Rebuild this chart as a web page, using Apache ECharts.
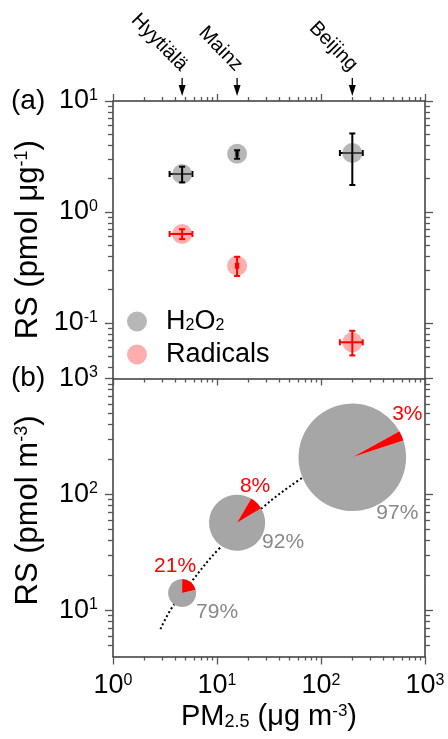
<!DOCTYPE html>
<html><head><meta charset="utf-8">
<script src="https://cdn.jsdelivr.net/npm/echarts@6/dist/echarts.min.js"></script>
<style>html,body{margin:0;padding:0;background:#fff}#c{width:448px;height:739px}</style>
</head><body><div id="c"></div>
<script>
// ---------------- data ----------------
const sites = ['Hyytiälä', 'Mainz', 'Beijing'];
const pm25 = [4.62, 15.6, 200];
const pm25Low = [3.5, 15.2, 152];
const pm25High = [5.8, 16.0, 252];
const h2o2 = [2.2, 3.35, 3.4];
const h2o2Low = [1.85, 3.02, 1.75];
const h2o2High = [2.56, 3.6, 5.1];
const radicals = [0.634, 0.328, 0.067];
const radicalsLow = [0.57, 0.265, 0.051];
const radicalsHigh = [0.70, 0.395, 0.085];
const rsTotal = [14.1, 57, 209];
const radicalPct = [21, 8, 3];
const h2o2Pct = [79, 92, 97];
const fitX = [2.86, 3.65, 5.69, 10.2, 27, 62.7, 90];
const fitY = [6.9, 10.4, 17.7, 33.2, 76, 135, 160];
const xTicks = [1, 10, 100, 1000];
const yTicksA = [0.1, 1, 10];
const yTicksB = [10, 100, 1000];

// ---------------- style ----------------
const FONT = '"Liberation Sans", Arial, sans-serif';
const wedgeDir = [52, 45.5, 23.5];           // direction of red wedge (deg, ccw from east)
const redLabelOff = [[-7, -27], [18, -37], [55, -43]];
const greyLabelOff = [[35, 19], [46, 19], [45, 56]];
const radiusPerSqrt = 3.72;
const xMin = 1, xMax = 1000;
const yMinA = 0.0316228, yMaxA = 10, yMinB = 4, yMaxB = 1000;

function minorTicks(min, max) {
  const out = [];
  for (let e = Math.floor(Math.log10(min)); e < Math.ceil(Math.log10(max)); e++) {
    for (let m = 2; m <= 9; m++) {
      const v = +(m * Math.pow(10, e)).toPrecision(6);
      if (v > min * 1.0001 && v < max * 0.9999) out.push(v);
    }
  }
  return out;
}
const expLabel = v => '{b|10}{s|' + Math.round(Math.log10(v)) + '}';
const richTick = {
  b: {fontFamily: FONT, fontSize: 27, lineHeight: 27, color: '#000'},
  s: {fontFamily: FONT, fontSize: 16, lineHeight: 15, verticalAlign: 'top', color: '#000'}
};
function axis(gridIndex, position, min, max, ticks, len, line, labelOpt) {
  return {
    type: 'log', logBase: 10, gridIndex: gridIndex, position: position, min: min, max: max,
    axisLine: {show: line, onZero: false, lineStyle: {color: '#3a3a3a', width: 1.5}},
    axisTick: {show: true, inside: false, length: len, customValues: ticks, lineStyle: {color: '#555', width: 1.3}},
    axisLabel: labelOpt || {show: false},
    splitLine: {show: false}, minorTick: {show: false}, minorSplitLine: {show: false},
    axisPointer: {show: false}, silent: true, nameMoveOverlap: false
  };
}
const xLab = {show: true, customValues: xTicks, margin: 16, formatter: expLabel, rich: richTick, color: '#000'};
const yLabA = {show: true, customValues: yTicksA, margin: 15, formatter: expLabel, rich: richTick, color: '#000'};
const yLabB = {show: true, customValues: yTicksB, margin: 15, formatter: expLabel, rich: richTick, color: '#000'};

const xMinor = minorTicks(xMin, xMax);
const yMinorA = minorTicks(yMinA, yMaxA);
const yMinorB = minorTicks(yMinB, yMaxB);

const xAxes = [
  axis(0, 'bottom', xMin, xMax, xTicks, 7, true),
  axis(0, 'bottom', xMin, xMax, xMinor, 4, false),
  axis(0, 'top', xMin, xMax, xTicks, 7, true),
  axis(0, 'top', xMin, xMax, xMinor, 4, false),
  Object.assign(axis(1, 'bottom', xMin, xMax, xTicks, 8, true, xLab), {
    name: 'PM{sub|2.5} (μg m{sup|-3})', nameLocation: 'middle', nameGap: 46,
    nameTextStyle: {fontFamily: FONT, fontSize: 29, lineHeight: 29, color: '#000', rich: {
      sub: {fontFamily: FONT, fontSize: 18, lineHeight: 1, verticalAlign: 'bottom', color: '#000'},
      sup: {fontFamily: FONT, fontSize: 17, lineHeight: 15, verticalAlign: 'top', color: '#000'}
    }}
  }),
  axis(1, 'bottom', xMin, xMax, xMinor, 4, false)
];
const yName = (txt, pad) => ({
  name: txt, nameLocation: 'middle', nameGap: 70, nameRotate: 90,
  nameTextStyle: {fontFamily: FONT, fontSize: 31, lineHeight: 30, color: '#000', padding: pad, rich: {
    sup: {fontFamily: FONT, fontSize: 18, lineHeight: 16, verticalAlign: 'top', color: '#000'}
  }}
});
const yAxes = [
  Object.assign(axis(0, 'left', yMinA, yMaxA, yTicksA, 8, true, yLabA), yName('RS (pmol μg{sup|-1})', [0, 0, 0, 0])),
  axis(0, 'left', yMinA, yMaxA, yMinorA, 5, false),
  axis(0, 'right', yMinA, yMaxA, yTicksA, 8, true),
  axis(0, 'right', yMinA, yMaxA, yMinorA, 5, false),
  Object.assign(axis(1, 'left', yMinB, yMaxB, yTicksB, 8, true, yLabB), yName('RS (pmol m{sup|-3})', [0, 0, 0, 14])),
  axis(1, 'left', yMinB, yMaxB, yMinorB, 5, false),
  axis(1, 'right', yMinB, yMaxB, yTicksB, 8, true),
  axis(1, 'right', yMinB, yMaxB, yMinorB, 5, false)
];

function errSeries(name, ys, yl, yh, color, orient, z) {
  return {
    type: 'custom', name: name, xAxisIndex: 0, yAxisIndex: 0, z: z, silent: true,
    data: pm25.map((x, i) => [x, ys[i], pm25Low[i], pm25High[i], yl[i], yh[i]]),
    encode: {x: [0, 2, 3], y: [1, 4, 5]},
    renderItem: function (params, api) {
      const x = api.value(0), y = api.value(1), cap = 3;
      const st = {stroke: color, lineWidth: 2};
      const ch = [];
      if (orient === 'h') {
        const a = api.coord([api.value(2), y]), b = api.coord([api.value(3), y]);
        ch.push({type: 'line', shape: {x1: a[0], y1: a[1], x2: b[0], y2: b[1]}, style: st});
        ch.push({type: 'line', shape: {x1: a[0], y1: a[1] - cap, x2: a[0], y2: a[1] + cap}, style: st});
        ch.push({type: 'line', shape: {x1: b[0], y1: b[1] - cap, x2: b[0], y2: b[1] + cap}, style: st});
      } else {
        const a = api.coord([x, api.value(4)]), b = api.coord([x, api.value(5)]);
        ch.push({type: 'line', shape: {x1: a[0], y1: a[1], x2: b[0], y2: b[1]}, style: st});
        ch.push({type: 'line', shape: {x1: a[0] - cap, y1: a[1], x2: a[0] + cap, y2: a[1]}, style: st});
        ch.push({type: 'line', shape: {x1: b[0] - cap, y1: b[1], x2: b[0] + cap, y2: b[1]}, style: st});
      }
      return {type: 'group', children: ch};
    }
  };
}

const series = [
  errSeries('eh1', h2o2, h2o2Low, h2o2High, '#000', 'h', 2),
  errSeries('eh2', radicals, radicalsLow, radicalsHigh, '#ff0000', 'h', 2),
  {type: 'scatter', name: 'H2O2', xAxisIndex: 0, yAxisIndex: 0, z: 3, silent: true,
   data: pm25.map((x, i) => [x, h2o2[i]]), symbolSize: 20,
   itemStyle: {color: 'rgba(124,124,124,0.69)'}},
  {type: 'scatter', name: 'Radicals', xAxisIndex: 0, yAxisIndex: 0, z: 3, silent: true,
   data: pm25.map((x, i) => [x, radicals[i]]), symbolSize: 20,
   itemStyle: {color: 'rgba(255,0,0,0.4)'}},
  errSeries('ev1', h2o2, h2o2Low, h2o2High, '#000', 'v', 4),
  errSeries('ev2', radicals, radicalsLow, radicalsHigh, '#ff0000', 'v', 4),
  {type: 'custom', name: 'sites', xAxisIndex: 0, yAxisIndex: 0, clip: false, silent: true, z: 5,
   data: pm25.map((x, i) => ({value: [x, yMaxA], name: sites[i]})),
   encode: {x: 0, y: 1},
   renderItem: function (params, api) {
     const c = api.coord([api.value(0), api.value(1)]);
     return {type: 'group', children: [
       {type: 'line', shape: {x1: c[0], y1: c[1] - 23, x2: c[0], y2: c[1] - 14}, style: {stroke: '#000', lineWidth: 1.3}},
       {type: 'polygon', shape: {points: [[c[0] - 3.5, c[1] - 16], [c[0] + 3.5, c[1] - 16], [c[0], c[1] - 5]]}, style: {fill: '#000'}},
       {type: 'text', x: c[0] + 2, y: c[1] - 33, rotation: -0.8,
        style: {text: sites[params.dataIndex], fill: '#000', font: '20px ' + FONT, align: 'right', verticalAlign: 'middle'}}
     ]};
   }},
  {type: 'line', name: 'fit', xAxisIndex: 4, yAxisIndex: 4, z: 1, silent: true,
   data: fitX.map((x, i) => [x, fitY[i]]), smooth: 0.4, symbol: 'none', showSymbol: false,
   lineStyle: {color: '#000', width: 2, type: [2, 2.5]}},
  {type: 'custom', name: 'pies', xAxisIndex: 4, yAxisIndex: 4, z: 3, silent: true,
   data: pm25.map((x, i) => [x, rsTotal[i], radicalPct[i], h2o2Pct[i]]),
   encode: {x: 0, y: 1},
   renderItem: function (params, api) {
     const i = params.dataIndex;
     const c = api.coord([api.value(0), api.value(1)]);
     const r = radiusPerSqrt * Math.sqrt(api.value(1));
     const half = api.value(2) / 100 * Math.PI;
     const dir = wedgeDir[i] * Math.PI / 180;
     const a0 = -dir - half, a1 = -dir + half;
     return {type: 'group', children: [
       {type: 'sector', shape: {cx: c[0], cy: c[1], r0: 0, r: r, startAngle: a1, endAngle: a0 + 2 * Math.PI, clockwise: true}, style: {fill: '#a6a6a6'}},
       {type: 'sector', shape: {cx: c[0], cy: c[1], r0: 0, r: r, startAngle: a0, endAngle: a1, clockwise: true}, style: {fill: '#ff0000'}},
       {type: 'text', x: c[0] + redLabelOff[i][0], y: c[1] + redLabelOff[i][1],
        style: {text: api.value(2) + '%', fill: '#ff0000', font: '21px ' + FONT, align: 'center', verticalAlign: 'middle'}},
       {type: 'text', x: c[0] + greyLabelOff[i][0], y: c[1] + greyLabelOff[i][1],
        style: {text: api.value(3) + '%', fill: '#888888', font: '21px ' + FONT, align: 'center', verticalAlign: 'middle'}}
     ]};
   }}
];

const option = {
  animation: false,
  backgroundColor: '#fff',
  grid: [
    {left: 113, top: 101, width: 312, height: 277.5, outerBoundsMode: 'none', containLabel: false},
    {left: 113, top: 378.5, width: 312, height: 278, outerBoundsMode: 'none', containLabel: false}
  ],
  xAxis: xAxes,
  yAxis: yAxes,
  legend: {
    orient: 'vertical', left: 122, top: 303, itemWidth: 20, itemHeight: 20, itemGap: 6,
    icon: 'circle', selectedMode: false, data: ['H2O2', 'Radicals'],
    formatter: n => n === 'H2O2' ? 'H{sub|2}O{sub|2}' : n,
    textStyle: {fontFamily: FONT, fontSize: 27, lineHeight: 25, color: '#000', padding: [0, 0, 0, 14], rich: {
      sub: {fontFamily: FONT, fontSize: 16, lineHeight: 7, verticalAlign: 'bottom', color: '#000'}
    }}
  },
  graphic: [
    {type: 'text', x: 11, y: 101, style: {text: '(a)', font: '28px ' + FONT, fill: '#000', verticalAlign: 'middle'}},
    {type: 'text', x: 11, y: 378, style: {text: '(b)', font: '28px ' + FONT, fill: '#000', verticalAlign: 'middle'}}
  ],
  series: series
};
const chart = echarts.init(document.getElementById('c'));
chart.setOption(option);
</script>
</body></html>
